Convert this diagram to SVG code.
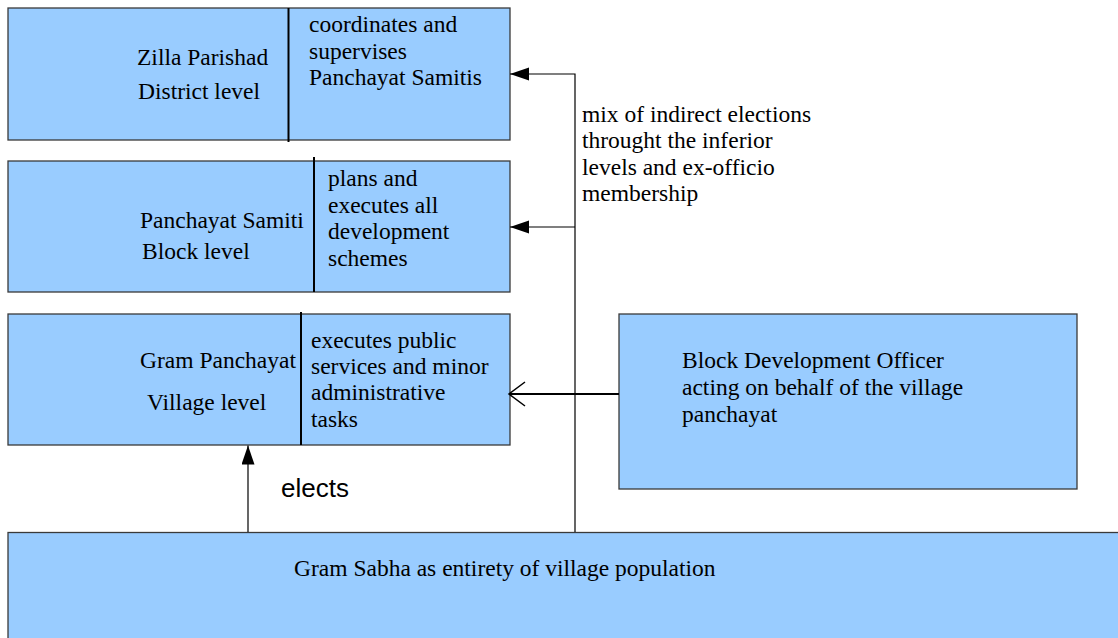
<svg xmlns="http://www.w3.org/2000/svg" width="1118" height="638" viewBox="0 0 1118 638">
<style>
.box{fill:#99ccff;stroke:#3a3a3a;stroke-width:1.3}
.div{stroke:#000;stroke-width:2;fill:none}
.line{stroke:#000;stroke-width:1.2;fill:none}
</style>
<defs>
<marker id="fa" markerWidth="20" markerHeight="14" refX="19" refY="6.5" orient="auto" markerUnits="userSpaceOnUse">
<path d="M0,0 L19,6.5 L0,13 Z" fill="#000"/>
</marker>
<marker id="oa" markerWidth="20" markerHeight="28" refX="17" refY="13" orient="auto" markerUnits="userSpaceOnUse">
<path d="M1,1 L17,13 L1,25" fill="none" stroke="#000" stroke-width="1.5"/>
</marker>
</defs>
<g font-family="Liberation Serif, serif" font-size="23.5" fill="#000">
<g id="zilla">
<rect class="box" x="8" y="8" width="502" height="132"/>
<line class="div" x1="288.5" y1="8" x2="288.5" y2="142"/>
<text x="137" y="65">Zilla Parishad</text>
<text x="138" y="99">District level</text>
<text x="309" y="32">coordinates and</text>
<text x="309" y="59">supervises</text>
<text x="309" y="85">Panchayat Samitis</text>
</g>
<g id="samiti">
<rect class="box" x="8" y="161" width="502" height="131"/>
<line class="div" x1="314" y1="157" x2="314" y2="292"/>
<text x="140" y="228">Panchayat Samiti</text>
<text x="142" y="259">Block level</text>
<text x="328" y="186">plans and</text>
<text x="328" y="212.5">executes all</text>
<text x="328" y="238.5">development</text>
<text x="328" y="265.5">schemes</text>
</g>
<g id="gram">
<rect class="box" x="8" y="314" width="502" height="131"/>
<line class="div" x1="301" y1="312" x2="301" y2="445"/>
<text x="140" y="367.5">Gram Panchayat</text>
<text x="147" y="410">Village level</text>
<text x="311" y="348">executes public</text>
<text x="311" y="374">services and minor</text>
<text x="311" y="400">administrative</text>
<text x="311" y="426.5">tasks</text>
</g>
<g id="bdo">
<rect class="box" x="619" y="314" width="458" height="175"/>
<text x="682" y="368">Block Development Officer</text>
<text x="682" y="395">acting on behalf of the village</text>
<text x="682" y="421.5">panchayat</text>
</g>
<g id="sabha">
<rect class="box" x="8" y="532.5" width="1120" height="120"/>
<text x="294" y="576">Gram Sabha as entirety of village population</text>
</g>
<g id="connectors">
<polyline class="line" points="575,532 575,74 510,74" marker-end="url(#fa)"/>
<line class="line" x1="575" y1="227" x2="510" y2="227" marker-end="url(#fa)"/>
<line class="line" x1="248" y1="532" x2="248" y2="445.5" marker-end="url(#fa)"/>
<line x1="619" y1="394" x2="509" y2="394" stroke="#000" stroke-width="2" marker-end="url(#oa)"/>
<text x="582" y="122">mix of indirect elections</text>
<text x="582" y="148">throught the inferior</text>
<text x="582" y="175">levels and ex-officio</text>
<text x="582" y="200.5">membership</text>
<text x="281" y="497" font-family="Liberation Sans, sans-serif" font-size="26">elects</text>
</g>
</g>
</svg>
